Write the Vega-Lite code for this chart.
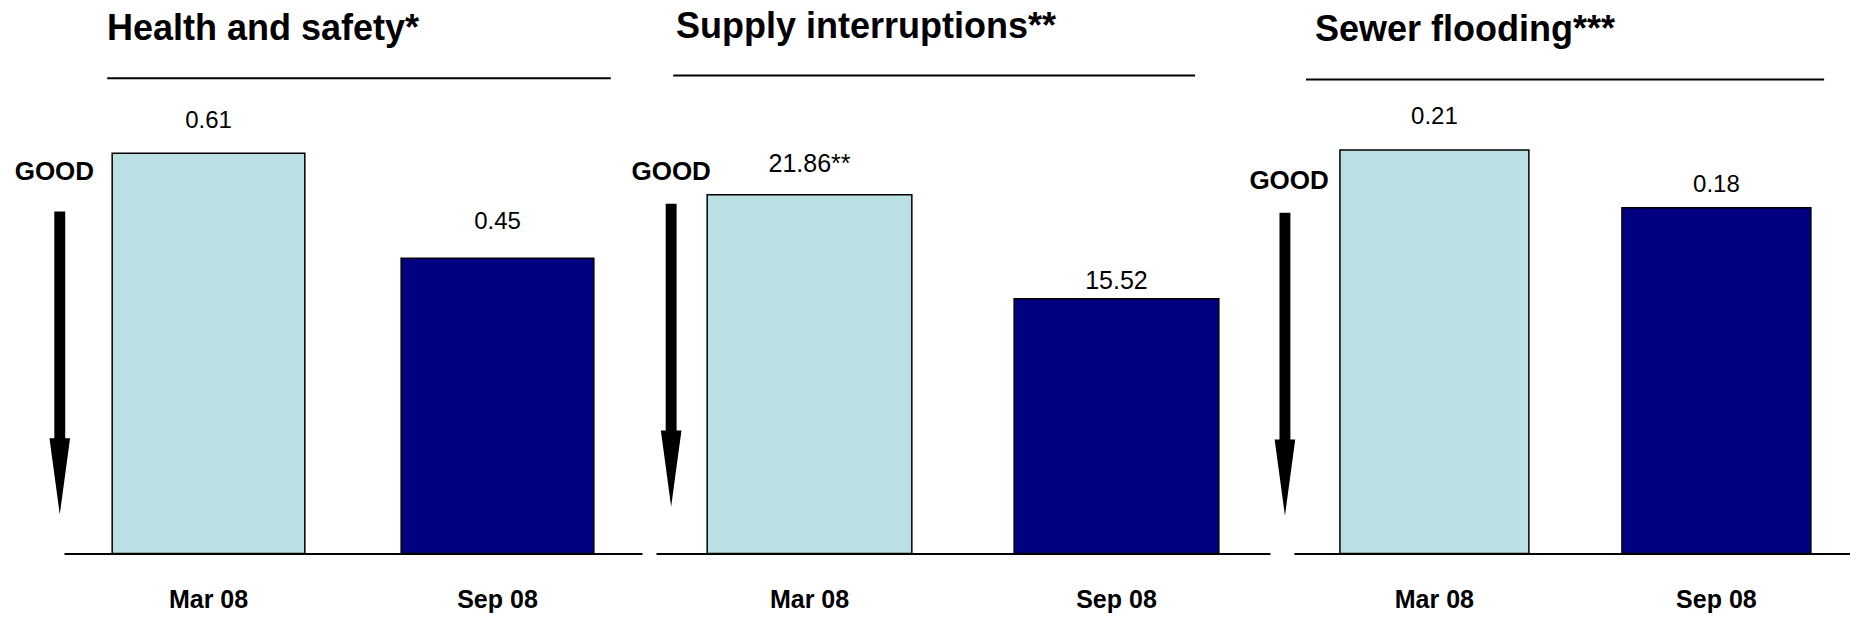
{
  "$schema": "https://vega.github.io/schema/vega-lite/v6.json",
  "background": "white",
  "autosize": {"type": "pad"},
  "padding": {"left": 14, "top": 8.5, "right": 0, "bottom": 0},
  "config": {"view": {"stroke": null}, "font": "Liberation Sans"},
  "datasets": {
    "kpi": [
      {"metric": "Health and safety", "period": "Mar 08", "value": 0.61, "label": "0.61"},
      {"metric": "Health and safety", "period": "Sep 08", "value": 0.45, "label": "0.45"},
      {"metric": "Supply interruptions", "period": "Mar 08", "value": 21.86, "label": "21.86**"},
      {"metric": "Supply interruptions", "period": "Sep 08", "value": 15.52, "label": "15.52"},
      {"metric": "Sewer flooding", "period": "Mar 08", "value": 0.21, "label": "0.21"},
      {"metric": "Sewer flooding", "period": "Sep 08", "value": 0.18, "label": "0.18"}
    ],
    "note": [{"note": "GOOD"}]
  },
  "spacing": 14,
  "bounds": "flush",
  "hconcat": [
    {
      "width": 578,
      "height": 476,
      "title": {"text": "Health and safety*", "anchor": "start", "frame": "group", "dx": 43, "offset": 1, "baseline": "alphabetic", "font": "Liberation Sans", "fontSize": 36, "fontWeight": "bold", "color": "black"},
      "layer": [
        {"data": {"name": "kpi"}, "transform": [{"filter": "datum.metric === 'Health and safety'"}],
         "mark": {"type": "bar", "stroke": "black", "strokeWidth": 1.5},
         "encoding": {
           "x": {"field": "period", "type": "nominal", "scale": {"domain": ["Mar 08", "Sep 08"], "paddingInner": 0.3333, "paddingOuter": 0.1667},
             "axis": {"title": null, "labelAngle": 0, "ticks": false, "tickSize": 0, "labelPadding": 34, "labelFont": "Liberation Sans", "labelFontSize": 25, "labelFontWeight": "bold", "labelColor": "black", "domainColor": "black", "domainWidth": 2, "grid": false}},
           "y": {"field": "value", "type": "quantitative", "scale": {"domain": [0, 0.7256], "nice": false}, "axis": null},
           "color": {"field": "period", "type": "nominal", "scale": {"domain": ["Mar 08", "Sep 08"], "range": ["#BAE0E3", "#000080"]}, "legend": null}}},
        {"data": {"name": "kpi"}, "transform": [{"filter": "datum.metric === 'Health and safety' && datum.period === 'Mar 08'"}],
         "mark": {"type": "text", "baseline": "alphabetic", "dy": -25, "font": "Liberation Sans", "fontSize": 24, "color": "black"},
         "encoding": {"x": {"field": "period", "type": "nominal"}, "y": {"field": "value", "type": "quantitative"}, "text": {"field": "label"}}},
        {"data": {"name": "kpi"}, "transform": [{"filter": "datum.metric === 'Health and safety' && datum.period === 'Sep 08'"}],
         "mark": {"type": "text", "baseline": "alphabetic", "dy": -29, "font": "Liberation Sans", "fontSize": 24, "color": "black"},
         "encoding": {"x": {"field": "period", "type": "nominal"}, "y": {"field": "value", "type": "quantitative"}, "text": {"field": "label"}}},
        {"data": {"name": "note"},
         "mark": {"type": "text", "baseline": "middle", "align": "center", "font": "Liberation Sans", "fontSize": 26, "fontWeight": "bold", "color": "black"},
         "encoding": {"x": {"datum": "Mar 08", "type": "nominal", "bandPosition": -0.30}, "y": {"datum": 0.5823, "type": "quantitative"}, "text": {"field": "note"}}},
        {"data": {"name": "note"},
         "mark": {"type": "point", "shape": "M-0.036,-1L0.036,-1L0.036,0.497L0.068,0.497L0,1L-0.068,0.497L-0.036,0.497Z", "size": 91809, "filled": true, "color": "black", "opacity": 1, "strokeWidth": 0},
         "encoding": {"x": {"datum": "Mar 08", "type": "nominal", "bandPosition": -0.272}, "y": {"datum": 0.2904, "type": "quantitative"}}},
        {"data": {"name": "note"},
         "mark": {"type": "rule", "strokeWidth": 2, "color": "black"},
         "encoding": {"x": {"datum": "Mar 08", "type": "nominal", "bandPosition": -0.026}, "x2": {"datum": "Sep 08", "bandPosition": 1.088}, "y": {"datum": 0.7245, "type": "quantitative"}}}
      ]
    },
    {
      "spacing": 24,
      "bounds": "flush",
      "hconcat": [
        {
          "width": 614,
          "height": 476,
          "title": {"text": "Supply interruptions**", "anchor": "start", "frame": "group", "dx": 20, "offset": 1, "baseline": "alphabetic", "font": "Liberation Sans", "fontSize": 36, "fontWeight": "bold", "color": "black"},
          "layer": [
            {"data": {"name": "kpi"}, "transform": [{"filter": "datum.metric === 'Supply interruptions'"}],
             "mark": {"type": "bar", "stroke": "black", "strokeWidth": 1.5},
             "encoding": {
               "x": {"field": "period", "type": "nominal", "scale": {"domain": ["Mar 08", "Sep 08"], "paddingInner": 0.3333, "paddingOuter": 0.1667},
                 "axis": {"title": null, "labelAngle": 0, "ticks": false, "tickSize": 0, "labelPadding": 34, "labelFont": "Liberation Sans", "labelFontSize": 25, "labelFontWeight": "bold", "labelColor": "black", "domainColor": "black", "domainWidth": 2, "grid": false}},
               "y": {"field": "value", "type": "quantitative", "scale": {"domain": [0, 29.01], "nice": false}, "axis": null},
               "color": {"field": "period", "type": "nominal", "scale": {"domain": ["Mar 08", "Sep 08"], "range": ["#BAE0E3", "#000080"]}, "legend": null}}},
            {"data": {"name": "kpi"}, "transform": [{"filter": "datum.metric === 'Supply interruptions' && datum.period === 'Mar 08'"}],
             "mark": {"type": "text", "baseline": "alphabetic", "dy": -22.5, "font": "Liberation Sans", "fontSize": 25, "color": "black"},
             "encoding": {"x": {"field": "period", "type": "nominal"}, "y": {"field": "value", "type": "quantitative"}, "text": {"field": "label"}}},
            {"data": {"name": "kpi"}, "transform": [{"filter": "datum.metric === 'Supply interruptions' && datum.period === 'Sep 08'"}],
             "mark": {"type": "text", "baseline": "alphabetic", "dy": -9.5, "font": "Liberation Sans", "fontSize": 25, "color": "black"},
             "encoding": {"x": {"field": "period", "type": "nominal"}, "y": {"field": "value", "type": "quantitative"}, "text": {"field": "label"}}},
            {"data": {"name": "note"},
             "mark": {"type": "text", "baseline": "middle", "align": "center", "font": "Liberation Sans", "fontSize": 26, "fontWeight": "bold", "color": "black"},
             "encoding": {"x": {"datum": "Mar 08", "type": "nominal", "bandPosition": -0.176}, "y": {"datum": 23.25, "type": "quantitative"}, "text": {"field": "note"}}},
            {"data": {"name": "note"},
             "mark": {"type": "point", "shape": "M-0.036,-1L0.036,-1L0.036,0.497L0.068,0.497L0,1L-0.068,0.497L-0.036,0.497Z", "size": 91809, "filled": true, "color": "black", "opacity": 1, "strokeWidth": 0},
             "encoding": {"x": {"datum": "Mar 08", "type": "nominal", "bandPosition": -0.176}, "y": {"datum": 12.08, "type": "quantitative"}}},
            {"data": {"name": "note"},
             "mark": {"type": "rule", "strokeWidth": 2, "color": "black"},
             "encoding": {"x": {"datum": "Mar 08", "type": "nominal", "bandPosition": -0.166}, "x2": {"datum": "Sep 08", "bandPosition": 0.884}, "y": {"datum": 29.13, "type": "quantitative"}}}
          ]
        },
        {
          "width": 556,
          "height": 476,
          "title": {"text": "Sewer flooding***", "anchor": "start", "frame": "group", "dx": 21, "offset": 1, "baseline": "alphabetic", "font": "Liberation Sans", "fontSize": 36, "fontWeight": "bold", "color": "black"},
          "layer": [
            {"data": {"name": "kpi"}, "transform": [{"filter": "datum.metric === 'Sewer flooding'"}],
             "mark": {"type": "bar", "stroke": "black", "strokeWidth": 1.5},
             "encoding": {
               "x": {"field": "period", "type": "nominal", "scale": {"domain": ["Mar 08", "Sep 08"], "paddingInner": 0.33, "paddingOuter": 0.1508, "align": 0.54},
                 "axis": {"title": null, "labelAngle": 0, "ticks": false, "tickSize": 0, "labelPadding": 34, "labelFont": "Liberation Sans", "labelFontSize": 25, "labelFontWeight": "bold", "labelColor": "black", "domainColor": "black", "domainWidth": 2, "grid": false}},
               "y": {"field": "value", "type": "quantitative", "scale": {"domain": [0, 0.2478], "nice": false}, "axis": null},
               "color": {"field": "period", "type": "nominal", "scale": {"domain": ["Mar 08", "Sep 08"], "range": ["#BAE0E3", "#000080"]}, "legend": null}}},
            {"data": {"name": "kpi"}, "transform": [{"filter": "datum.metric === 'Sewer flooding' && datum.period === 'Mar 08'"}],
             "mark": {"type": "text", "baseline": "alphabetic", "dy": -26, "font": "Liberation Sans", "fontSize": 24, "color": "black"},
             "encoding": {"x": {"field": "period", "type": "nominal"}, "y": {"field": "value", "type": "quantitative"}, "text": {"field": "label"}}},
            {"data": {"name": "kpi"}, "transform": [{"filter": "datum.metric === 'Sewer flooding' && datum.period === 'Sep 08'"}],
             "mark": {"type": "text", "baseline": "alphabetic", "dy": -16, "font": "Liberation Sans", "fontSize": 24, "color": "black"},
             "encoding": {"x": {"field": "period", "type": "nominal"}, "y": {"field": "value", "type": "quantitative"}, "text": {"field": "label"}}},
            {"data": {"name": "note"},
             "mark": {"type": "text", "baseline": "middle", "align": "center", "font": "Liberation Sans", "fontSize": 26, "fontWeight": "bold", "color": "black"},
             "encoding": {"x": {"datum": "Mar 08", "type": "nominal", "bandPosition": -0.269}, "y": {"datum": 0.1939, "type": "quantitative"}, "text": {"field": "note"}}},
            {"data": {"name": "note"},
             "mark": {"type": "point", "shape": "M-0.036,-1L0.036,-1L0.036,0.497L0.068,0.497L0,1L-0.068,0.497L-0.036,0.497Z", "size": 91809, "filled": true, "color": "black", "opacity": 1, "strokeWidth": 0},
             "encoding": {"x": {"datum": "Mar 08", "type": "nominal", "bandPosition": -0.291}, "y": {"datum": 0.0985, "type": "quantitative"}}},
            {"data": {"name": "note"},
             "mark": {"type": "rule", "strokeWidth": 2, "color": "black"},
             "encoding": {"x": {"datum": "Mar 08", "type": "nominal", "bandPosition": -0.18}, "x2": {"datum": "Sep 08", "bandPosition": 1.07}, "y": {"datum": 0.2467, "type": "quantitative"}}}
          ]
        }
      ]
    }
  ]
}
